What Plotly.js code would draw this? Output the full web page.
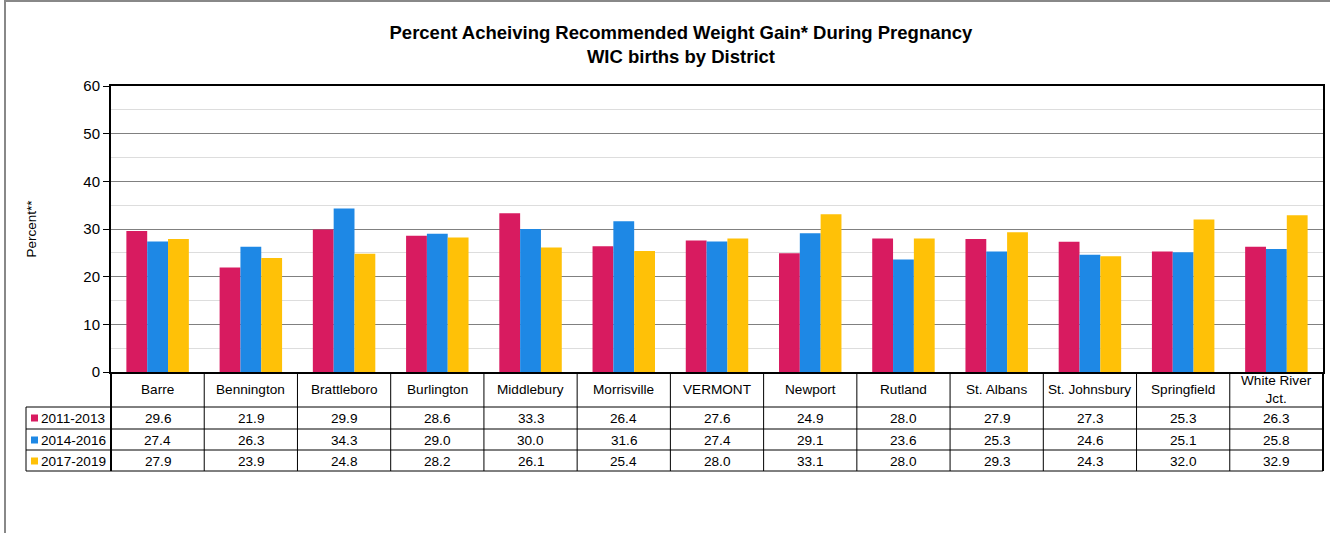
<!DOCTYPE html>
<html>
<head>
<meta charset="utf-8">
<script src="https://cdn.plot.ly/plotly-3.0.1.min.js"></script>
<style>html,body{margin:0;padding:0;background:#fff;}#chart{width:1330px;height:533px;}</style>
</head>
<body>
<div id="chart"></div>
<script>
var districts = ["Barre","Bennington","Brattleboro","Burlington","Middlebury","Morrisville","VERMONT","Newport","Rutland","St. Albans","St. Johnsbury","Springfield","White River<br>Jct."];
var seriesNames = ["2011-2013","2014-2016","2017-2019"];
var s2011 = [29.6,21.9,29.9,28.6,33.3,26.4,27.6,24.9,28.0,27.9,27.3,25.3,26.3];
var s2014 = [27.4,26.3,34.3,29.0,30.0,31.6,27.4,29.1,23.6,25.3,24.6,25.1,25.8];
var s2017 = [27.9,23.9,24.8,28.2,26.1,25.4,28.0,33.1,28.0,29.3,24.3,32.0,32.9];
var colors = ["#D81B60","#1E88E5","#FFC107"];
var yTicks = [0,10,20,30,40,50,60];

var W = 1330, H = 533;
var mL = 111, mR = 7, mT = 86, mB = 161;
var plotW = W - mL - mR, plotH = H - mT - mB;
function px2x(p){ return (p - mL) / plotW; }
function py2y(p){ return (H - mB - p) / plotH; }

var allSeries = [s2011, s2014, s2017];
var traces = allSeries.map(function(vals, i){
  return {type:"bar", name: seriesNames[i], x: districts, y: vals,
    marker:{color: colors[i], line:{width:0}}, hoverinfo:"x+y+name"};
});

var font = "Liberation Sans, Arial, sans-serif";
var n = districts.length;
var rowLines = [407, 429, 450, 471];
var rowCenters = [418, 440, 461];
var headerCenter = 389;
var shapes = [], annotations = [];
var lc = "#000";
var tfs = 13.6;

// outer border
shapes.push({type:"rect", xref:"paper", yref:"paper", x0:px2x(5), x1:px2x(1400), y0:py2y(1), y1:py2y(700), line:{color:"#888", width:2}});
// horizontal table lines
rowLines.forEach(function(p){
  shapes.push({type:"line", xref:"paper", yref:"paper", x0:px2x(26), x1:1, y0:py2y(p), y1:py2y(p), line:{color:lc, width:1}});
});
// vertical lines
for (var k = 0; k <= n; k++) {
  shapes.push({type:"line", xref:"paper", yref:"paper", x0:k/n, x1:k/n, y0:0, y1:py2y(471), line:{color:lc, width:(k===0||k===n)?2:1}});
}
shapes.push({type:"line", xref:"paper", yref:"paper", x0:px2x(26), x1:px2x(26), y0:py2y(407), y1:py2y(471), line:{color:lc, width:1}});

// header labels
districts.forEach(function(d, i){
  annotations.push({xref:"paper", yref:"paper", x:(i+0.5)/n, y:py2y(headerCenter), text:d, showarrow:false,
    xanchor:"center", yanchor:"middle", font:{family:font, size:tfs, color:"#000"}});
});
// values
allSeries.forEach(function(vals, r){
  vals.forEach(function(v, i){
    annotations.push({xref:"paper", yref:"paper", x:(i+0.5)/n, y:py2y(rowCenters[r]), text:v.toFixed(1), showarrow:false,
      xanchor:"center", yanchor:"middle", font:{family:font, size:tfs, color:"#000"}});
  });
  // legend key
  shapes.push({type:"rect", xref:"paper", yref:"paper", x0:px2x(31), x1:px2x(38), y0:py2y(rowCenters[r]-3.5), y1:py2y(rowCenters[r]+3.5), fillcolor:colors[r], line:{width:0}});
  annotations.push({xref:"paper", yref:"paper", x:px2x(39), y:py2y(rowCenters[r]), text:seriesNames[r], showarrow:false,
    xanchor:"left", yanchor:"middle", font:{family:font, size:tfs, color:"#000"}});
});

var layout = {
  width: W, height: H,
  margin:{l:mL, r:mR, t:mT, b:mB, pad:0},
  paper_bgcolor:"#fff", plot_bgcolor:"#fff",
  showlegend:false,
  barmode:"group", bargap:0.33, bargroupgap:0,
  title:{text:"<b>Percent Acheiving Recommended Weight Gain* During Pregnancy<br>WIC births by District</b>",
    font:{family:font, size:18.5, color:"#000"}, xref:"container", x:0.512, xanchor:"center", y:0.927, yanchor:"middle"},
  xaxis:{type:"category", showticklabels:false, ticks:"", showgrid:false, showline:true, mirror:true, linecolor:"#000", linewidth:2, fixedrange:true},
  yaxis:{range:[0,60], tickvals:yTicks, ticktext:yTicks.map(String), ticks:"outside", ticklen:6, tickcolor:"#000",
    showline:true, mirror:true, linecolor:"#000", linewidth:2, gridcolor:"#808080", gridwidth:1, zeroline:false,
    tickfont:{family:font, size:15, color:"#000"},
    minor:{dtick:5, showgrid:true, gridcolor:"#dddddd", gridwidth:1, ticks:""},
    title:{text:"Percent**", font:{family:font, size:13.5, color:"#000"}, standoff:44}},
  shapes: shapes,
  annotations: annotations
};
Plotly.newPlot("chart", traces, layout, {displayModeBar:false, staticPlot:true});
</script>
</body>
</html>
